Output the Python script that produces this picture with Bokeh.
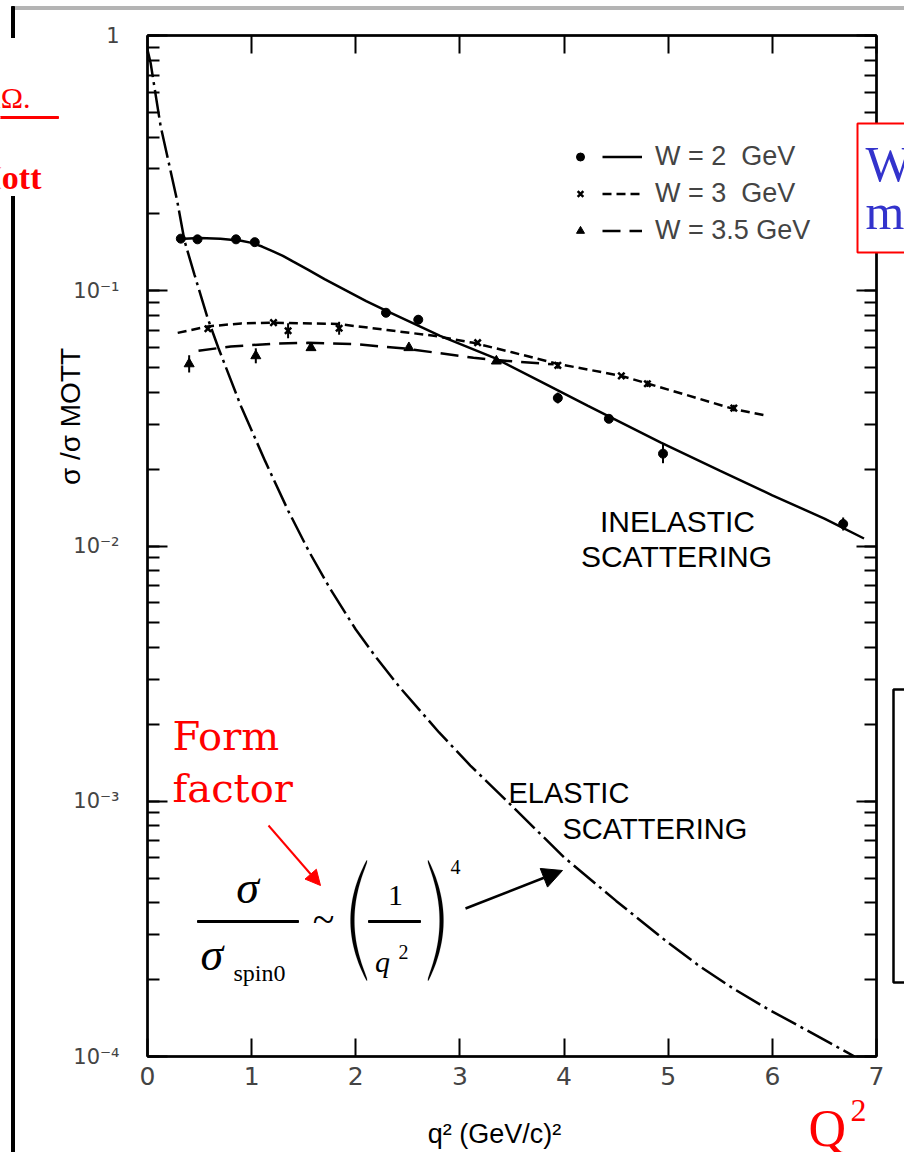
import numpy as np
from bokeh.plotting import figure
from bokeh.models import (ColumnDataSource, Range1d, LinearAxis, LogAxis, FixedTicker, LogTicker,
                          CustomJSTickFormatter, Label, BoxAnnotation, PolyAnnotation, Arrow,
                          NormalHead, Legend, LegendItem, GridBox)
from bokeh.embed import file_html
from bokeh.resources import INLINE

# sigma / sigma_Mott versus q^2 for electron-proton scattering

# W = 2 GeV: measured points (relative error) and fitted curve
w2_q = [0.32, 0.48, 0.85, 1.03, 2.29, 2.60, 3.94, 4.43, 4.95, 6.68]
w2_val = [0.160, 0.159, 0.159, 0.155, 0.082, 0.077, 0.038, 0.0315, 0.023, 0.0122]
w2_err = [0.0, 0.0, 0.0, 0.0, 0.0, 0.04, 0.05, 0.03, 0.09, 0.06]
w2_fit_q = [0.35, 0.5, 0.7, 0.9, 1.0, 1.1, 1.2, 1.3, 1.4, 1.54, 1.7, 1.9, 2.1, 2.29, 2.81,
            3.33, 3.8, 4.23, 4.93, 5.5, 6.0, 6.5, 6.88]
w2_fit = [0.160, 0.161, 0.160, 0.157, 0.154, 0.149, 0.143, 0.137, 0.130, 0.121, 0.111, 0.1005,
          0.091, 0.0835, 0.0666, 0.0546, 0.0436, 0.0354, 0.0254, 0.0197, 0.0158, 0.0128, 0.0107]

# W = 3 GeV
w3_q = [0.58, 1.21, 1.35, 1.84, 3.17, 3.94, 4.55, 4.80, 5.63]
w3_val = [0.071, 0.075, 0.0697, 0.0713, 0.0626, 0.051, 0.0464, 0.0432, 0.0347]
w3_err = [0.0, 0.0, 0.07, 0.06, 0.0, 0.03, 0.0, 0.03, 0.03]
w3_fit_q = [0.29, 0.58, 0.9, 1.21, 1.83, 2.3, 2.75, 3.13, 3.5, 3.94, 4.55, 5.0, 5.63, 5.96]
w3_fit = [0.0684, 0.0725, 0.0745, 0.0749, 0.0741, 0.0702, 0.0666, 0.0625, 0.0574, 0.0517,
          0.0464, 0.041, 0.0344, 0.0323]

# W = 3.5 GeV
w35_q = [0.40, 1.04, 1.57, 2.51, 3.35]
w35_val = [0.0517, 0.0556, 0.0598, 0.0598, 0.053]
w35_err = [0.08, 0.07, 0.0, 0.0, 0.0]
w35_fit_q = [0.49, 0.8, 1.2, 1.54, 2.0, 2.5, 3.13, 3.46, 3.9]
w35_fit = [0.0582, 0.0605, 0.0620, 0.0625, 0.0618, 0.0592, 0.0546, 0.0531, 0.0515]

# elastic scattering curve
el_q = [0.0, 0.03, 0.125, 0.2, 0.285, 0.355, 0.45, 0.576, 0.68, 0.9, 1.13, 1.35, 1.55, 1.75,
        2.0, 2.2, 2.43, 2.8, 3.1, 3.39, 3.7, 4.0, 4.5, 5.0, 5.3, 5.63, 5.95, 6.28, 6.79]
el_val = [0.88, 0.78, 0.444, 0.323, 0.225, 0.157, 0.116, 0.0784, 0.0598, 0.0351, 0.0215,
          0.01377, 0.00953, 0.00684, 0.00471, 0.00364, 0.00277, 0.00186, 0.00138, 0.00106,
          0.000796, 0.000603, 0.000407, 0.000279, 0.000226, 0.000184, 0.000154, 0.00013, 0.0001]

x_ticks = [0, 1, 2, 3, 4, 5, 6, 7]
y_limits = [1e-4, 1.0]
series_names = ["W = 2  GeV", "W = 3  GeV", "W = 3.5 GeV"]

W_PX, H_PX = 904, 1152
FL, FB = 147, 1056  # frame left edge and bottom edge on the canvas

# ---------------- chart ----------------
p = figure(width=W_PX, height=H_PX, x_range=Range1d(x_ticks[0], x_ticks[-1]),
           y_range=Range1d(*y_limits), y_axis_type="log",
           output_backend="svg", toolbar_location=None,
           min_border_left=FL, min_border_right=28, min_border_top=35,
           min_border_bottom=H_PX - FB,
           background_fill_color="white", border_fill_color="white")
p.grid.visible = False
p.outline_line_color = "black"
p.outline_line_width = 2

xa = p.xaxis[0]
xa.ticker = FixedTicker(ticks=x_ticks)
xa.major_tick_in = 18
xa.major_tick_out = 0
xa.minor_tick_in = 0
xa.minor_tick_out = 0
xa.axis_line_width = 2.5
xa.major_tick_line_width = 2
xa.major_label_text_font = "DejaVu Sans"
xa.major_label_text_font_size = "25px"
xa.major_label_standoff = 10

ya = p.yaxis[0]
ya.ticker = LogTicker(num_minor_ticks=10)
ya.formatter = CustomJSTickFormatter(code="""
const e = Math.round(Math.log10(tick));
if (e === 0) { return "1"; }
const sup = {"-": "\u207B", "0": "\u2070", "1": "\u00B9", "2": "\u00B2", "3": "\u00B3",
             "4": "\u2074", "5": "\u2075", "6": "\u2076", "7": "\u2077", "8": "\u2078", "9": "\u2079"};
return "10" + String(e).split("").map(c => sup[c]).join("");
""")
ya.major_tick_in = 20
ya.major_tick_out = 0
ya.minor_tick_in = 12
ya.minor_tick_out = 0
ya.axis_line_width = 2.5
ya.major_tick_line_width = 2
ya.minor_tick_line_width = 2
ya.major_label_text_font = "DejaVu Sans"
ya.major_label_text_font_size = "21px"
ya.major_label_standoff = 28

# tick-only axes on top and right (their labels are blank)
blank = CustomJSTickFormatter(code="return '';")
top = LinearAxis(ticker=FixedTicker(ticks=x_ticks), formatter=blank, major_tick_in=18,
                 major_tick_out=0, minor_tick_in=0, minor_tick_out=0, major_label_standoff=0,
                 axis_line_width=2.5, major_tick_line_width=2)
p.add_layout(top, "above")
right = LogAxis(ticker=LogTicker(num_minor_ticks=10), formatter=blank, major_tick_in=20,
                major_tick_out=0, minor_tick_in=12, minor_tick_out=0, major_label_standoff=0,
                axis_line_width=2.5, major_tick_line_width=2, minor_tick_line_width=2)
p.add_layout(right, "right")

p.line(el_q, el_val, line_width=2.5, color="black", line_dash="28 5 3 5")
l2 = p.line(w2_fit_q, w2_fit, line_width=2.5, color="black")
l3 = p.line(w3_fit_q, w3_fit, line_width=2.5, color="black", line_dash="9 5")
l35 = p.line(w35_fit_q, w35_fit, line_width=2.5, color="black", line_dash="18 9")


def err_source(q, v, e):
    q, v, e = np.asarray(q), np.asarray(v), np.asarray(e)
    m = e > 0
    return ColumnDataSource(dict(x=q[m], lo=v[m] / (1 + e[m]), hi=v[m] * (1 + e[m])))


for q, v, e in ((w2_q, w2_val, w2_err), (w3_q, w3_val, w3_err), (w35_q, w35_val, w35_err)):
    p.segment(x0="x", y0="lo", x1="x", y1="hi", source=err_source(q, v, e),
              line_width=2, color="black")

s2 = p.scatter(w2_q, w2_val, marker="circle", size=9, color="black")
s3 = p.scatter(w3_q, w3_val, marker="x", size=9, line_width=2.5, color="black")
s35 = p.scatter(w35_q, w35_val, marker="triangle", size=10, color="black")

# key: markers column and line/label column
key_common = dict(glyph_height=37, label_height=37, spacing=0, padding=0, margin=0,
                  border_line_color=None, background_fill_alpha=0)
line_key = Legend(items=[LegendItem(label=n, renderers=[r])
                         for n, r in zip(series_names, (l2, l3, l35))],
                  location=(602 - FL, 807), glyph_width=40, label_standoff=13,
                  label_text_font="Liberation Sans", label_text_font_size="27px", **key_common)
p.add_layout(line_key)
marker_key = Legend(items=[LegendItem(label="\u00a0", renderers=[r]) for r in (s2, s3, s35)],
                    location=(570 - FL, 807), glyph_width=20, label_standoff=0,
                    label_text_font_size="12px", **key_common)
p.add_layout(marker_key)

# ---------------- annotation layer (canvas pixel coordinates, y downward) ----------------
d = figure(width=W_PX, height=H_PX, x_range=Range1d(0, W_PX), y_range=Range1d(H_PX, 0),
           output_backend="svg", toolbar_location=None, min_border=0,
           x_axis_location=None, y_axis_location=None,
           background_fill_color=None, border_fill_color=None)
d.grid.visible = False
d.outline_line_color = None

# the two layers keep their own frames
for fig in (p, d):
    if "frame_align" in fig.properties():
        fig.frame_align = False

RED = "#ff0000"
BLUE = "#3333cc"


def add_text(text, x, y, size, color="black", font="Liberation Sans", style="normal",
             align="left", angle=0.0):
    d.add_layout(Label(text=text, x=x, y=y, text_font_size=f"{size}px", text_color=color,
                       text_font=font, text_font_style=style, text_align=align,
                       text_baseline="middle", angle=angle))


def add_box(x0, x1, y0, y1, fill="black", line=None, lw=0):
    d.add_layout(BoxAnnotation(left=x0, right=x1, top=y0, bottom=y1,
                               fill_color=fill, fill_alpha=1.0 if fill else 0.0,
                               line_color=line if line else (fill or "black"),
                               line_alpha=1.0 if (line or fill) else 0.0,
                               line_width=lw if lw else 1))


def add_paren(x_bulge, x_end, y_top, y_bot, thick, n=48):
    t = np.linspace(-1.0, 1.0, n)
    y = (y_top + y_bot) / 2 + t * (y_bot - y_top) / 2
    bow = 1.0 - t ** 2
    outer = x_end + (x_bulge - x_end) * bow
    sign = 1.0 if x_bulge < x_end else -1.0
    inner = outer + sign * (0.7 + thick * np.sqrt(bow))
    d.add_layout(PolyAnnotation(xs=list(np.concatenate([outer, inner[::-1]])),
                                ys=list(np.concatenate([y, y[::-1]])),
                                fill_color="black", fill_alpha=1.0,
                                line_color="black", line_width=0.5))


# page furniture around the plot
add_box(13, 910, 6, 9, fill="#b4b4b4")
add_box(11, 14, 6, 1160, fill="black")
add_box(-5, 78, 38, 195, fill="white")
add_box(-5, 58, 116, 118, fill=RED)
add_text("dΩ.", 30, 97, 30, color=RED, font="Liberation Serif", align="right")
add_text("Mott", 41, 177, 34, color=RED, font="Liberation Serif", style="bold", align="right")
add_box(857, 915, 123, 252, fill="white", line=RED, lw=2)
add_text("W", 865, 163, 50, color=BLUE, font="Liberation Serif")
add_text("m", 865, 211, 50, color=BLUE, font="Liberation Serif")
add_box(893, 915, 689, 982, fill=None, line="black", lw=2.5)
add_text("Q", 808, 1128, 52, color=RED, font="Liberation Serif")
add_text("2", 850, 1110, 32, color=RED, font="Liberation Serif")

# axis titles
add_text("q² (GeV/c)²", 494, 1133, 27, align="center")
add_text("σ /σ MOTT", 70, 416, 28, align="center", angle=np.pi / 2)

# region labels
add_text("INELASTIC", 677, 521, 30, align="center")
add_text("SCATTERING", 676, 556, 30, align="center")
add_text("ELASTIC", 508, 792, 29)
add_text("SCATTERING", 562, 828, 29)

# form factor note and formula
add_text("Form", 172, 735, 40, color=RED, font="DejaVu Serif")
add_text("factor", 172, 787, 40, color=RED, font="DejaVu Serif")
d.add_layout(Arrow(x_start=268, y_start=825, x_end=320, y_end=885, line_color=RED,
                   line_width=2, end=NormalHead(size=15, fill_color=RED, line_color=RED)))

add_text("σ", 247, 887, 46, font="Liberation Serif", style="italic", align="center")
add_box(197, 298, 920, 922, fill="black")
add_text("σ", 200, 954, 46, font="Liberation Serif", style="italic")
add_text("spin0", 233, 972, 24, font="Liberation Serif")
add_text("~", 323, 919, 40, font="Liberation Serif", align="center")
add_paren(350, 366, 860, 980, 3.2)
add_paren(443, 428, 860, 980, 3.2)
add_text("1", 395, 895, 30, font="Liberation Serif", align="center")
add_box(368, 420, 920, 922, fill="black")
add_text("q", 382, 961, 30, font="Liberation Serif", style="italic", align="center")
add_text("2", 398, 951, 20, font="Liberation Serif")
add_text("4", 450, 866, 20, font="Liberation Serif")
d.add_layout(Arrow(x_start=465, y_start=908, x_end=562, y_end=870, line_color="black",
                   line_width=2.5,
                   end=NormalHead(size=20, fill_color="black", line_color="black")))

# both layers share one grid cell, annotations on top
page = GridBox(children=[(p, 0, 0), (d, 0, 0)])

open("out.html", "w").write(file_html(page, INLINE))
